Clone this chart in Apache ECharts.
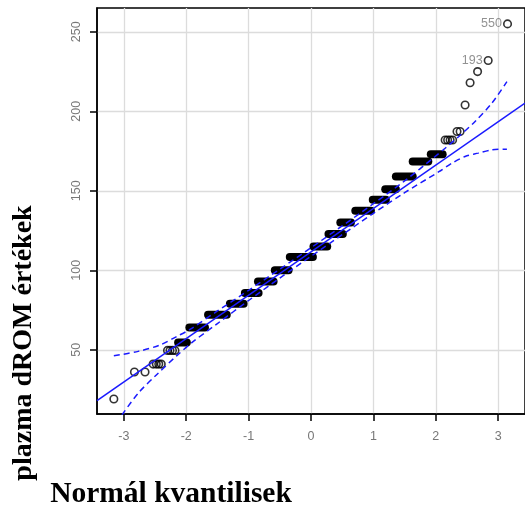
<!DOCTYPE html>
<html>
<head>
<meta charset="utf-8">
<title>QQ plot - plazma dROM</title>
<script src="https://cdn.jsdelivr.net/npm/echarts@6/dist/echarts.min.js"></script>
<style>
  html, body { margin: 0; padding: 0; background: #fff; }
  #chart { width: 525px; height: 520px; }
</style>
</head>
<body>
<div id="chart"></div>
<script>
// tick positions
var xTicks = [-3, -2, -1, 0, 1, 2, 3];
var yTicks = [50, 100, 150, 200, 250];

// dense runs of tied values: level, first and last theoretical quantile
var stepLevel = [54.6, 64, 72, 79, 85.7, 93, 100, 108.3, 115, 122.8, 130, 137.4, 144.3, 151, 159, 168.4, 173];
var stepFrom  = [-2.13, -1.95, -1.65, -1.30, -1.06, -0.85, -0.58, -0.34, 0.04, 0.28, 0.47, 0.71, 0.99, 1.19, 1.36, 1.63, 1.92];
var stepTo    = [-1.99, -1.70, -1.35, -1.08, -0.84, -0.60, -0.36, 0.03, 0.26, 0.51, 0.64, 0.96, 1.20, 1.36, 1.63, 1.88, 2.11];

// single (open) points
var ptX = [-3.16, -2.83, -2.66, -2.53, -2.48, -2.44, -2.40, -2.30, -2.26, -2.22, -2.18, 2.15, 2.19, 2.23, 2.27, 2.34, 2.39, 2.47, 2.55, 2.67];
var ptY = [19, 36, 36, 41, 41, 41, 41, 49.6, 49.6, 49.6, 49.6, 182, 182, 182, 182, 187.3, 187.3, 204, 218, 225];

// identified outliers
var idX = [2.84, 3.15];
var idY = [232, 255];
var idLabel = ['193', '550'];

// reference line and confidence envelope
var refLine = [[-3.43, 18], [3.43, 205.2]];
var upperBand = [[-3.16, 46.2], [-2.77, 49], [-2.42, 53], [-2.15, 58.4], [-1.94, 62.8], [-1.5, 74.4], [-1.0, 87.4], [-0.5, 100.7], [0, 114.2], [0.5, 127.9], [1.0, 141.9], [1.5, 156.2], [1.99, 171.6], [2.15, 176.8], [2.37, 184.2], [2.63, 193.6], [2.90, 205.2], [3.14, 218.7]];
var lowerBand = [[-3.03, 9], [-2.77, 22.7], [-2.47, 34.5], [-2.15, 46.3], [-1.9, 54.8], [-1.5, 66.5], [-1.0, 81.0], [-0.5, 95.1], [0, 108.8], [0.5, 122.4], [1.0, 135.8], [1.5, 148.8], [2.05, 162], [2.26, 167.4], [2.47, 171.6], [2.68, 173.7], [2.90, 175.8], [3.14, 176.2]];

var blue = '#1a1aff';
var stepData = stepLevel.map(function (v, i) { return [stepFrom[i], stepTo[i], v]; });
var ptData = ptX.map(function (x, i) { return [x, ptY[i]]; });
var idData = idX.map(function (x, i) { return { value: [x, idY[i]], label: { formatter: idLabel[i] } }; });

var myChart = echarts.init(document.getElementById('chart'));
myChart.setOption({
    animation: false,
    grid: { left: 97, right: -2, top: 8, bottom: 106, show: true, borderColor: '#000', borderWidth: 1.5, backgroundColor: 'transparent' },
    xAxis: {
        type: 'value', min: -3.43, max: 3.43,
        axisLine: { show: true, onZero: false, lineStyle: { color: '#000', width: 1.5 } },
        axisTick: { show: true, length: 7, customValues: xTicks, lineStyle: { color: '#000', width: 1.5 } },
        axisLabel: { customValues: xTicks, margin: 16, color: '#777', fontSize: 12.5, fontFamily: 'Liberation Sans' },
        splitLine: { show: true, lineStyle: { color: '#dcdcdc', width: 1.3 } }
    },
    yAxis: {
        type: 'value', min: 9.6, max: 265,
        axisLine: { show: true, onZero: false, lineStyle: { color: '#000', width: 1.5 } },
        axisTick: { show: true, length: 7, customValues: yTicks, lineStyle: { color: '#000', width: 1.5 } },
        axisLabel: { customValues: yTicks, rotate: 90, margin: 14, color: '#777', fontSize: 12.5, fontFamily: 'Liberation Sans' },
        splitLine: { show: true, lineStyle: { color: '#dcdcdc', width: 1.3 } }
    },
    graphic: [
        { type: 'text', x: 24, y: 343, rotation: Math.PI / 2,
          style: { text: 'plazma dROM értékek', font: 'bold 28px "Liberation Serif"', fill: '#000', align: 'center', verticalAlign: 'middle' } },
        { type: 'text', x: 171, y: 494,
          style: { text: 'Normál kvantilisek', font: 'bold 29.5px "Liberation Serif"', fill: '#000', align: 'center', verticalAlign: 'middle' } }
    ],
    series: [
        {
            type: 'custom',
            data: stepData,
            encode: { x: [0, 1], y: 2 },
            renderItem: function (params, api) {
                var a = api.coord([api.value(0), api.value(2)]);
                var b = api.coord([api.value(1), api.value(2)]);
                return { type: 'line', shape: { x1: a[0], y1: a[1], x2: b[0], y2: b[1] },
                         style: { stroke: '#000', lineWidth: 8, lineCap: 'round' } };
            },
            z: 2
        },
        {
            type: 'scatter', data: ptData, symbol: 'circle', symbolSize: 7.5,
            itemStyle: { color: 'rgba(255,255,255,0)', borderColor: '#000', borderWidth: 1.6 },
            z: 3
        },
        {
            type: 'scatter', data: idData, symbol: 'circle', symbolSize: 7.5,
            itemStyle: { color: 'rgba(255,255,255,0)', borderColor: '#000', borderWidth: 1.6 },
            label: { show: true, position: 'left', distance: 1, color: '#777', fontSize: 12.5, fontFamily: 'Liberation Sans' },
            z: 3
        },
        {
            type: 'line', data: refLine, symbol: 'none', clip: true,
            lineStyle: { color: blue, width: 1.5 }, z: 4
        },
        {
            type: 'line', data: upperBand, symbol: 'none', clip: true, smooth: 0.3,
            lineStyle: { color: blue, width: 1.5, type: [6, 4] }, z: 4
        },
        {
            type: 'line', data: lowerBand, symbol: 'none', clip: true, smooth: 0.3,
            lineStyle: { color: blue, width: 1.5, type: [6, 4] }, z: 4
        }
    ]
});
</script>
</body>
</html>
